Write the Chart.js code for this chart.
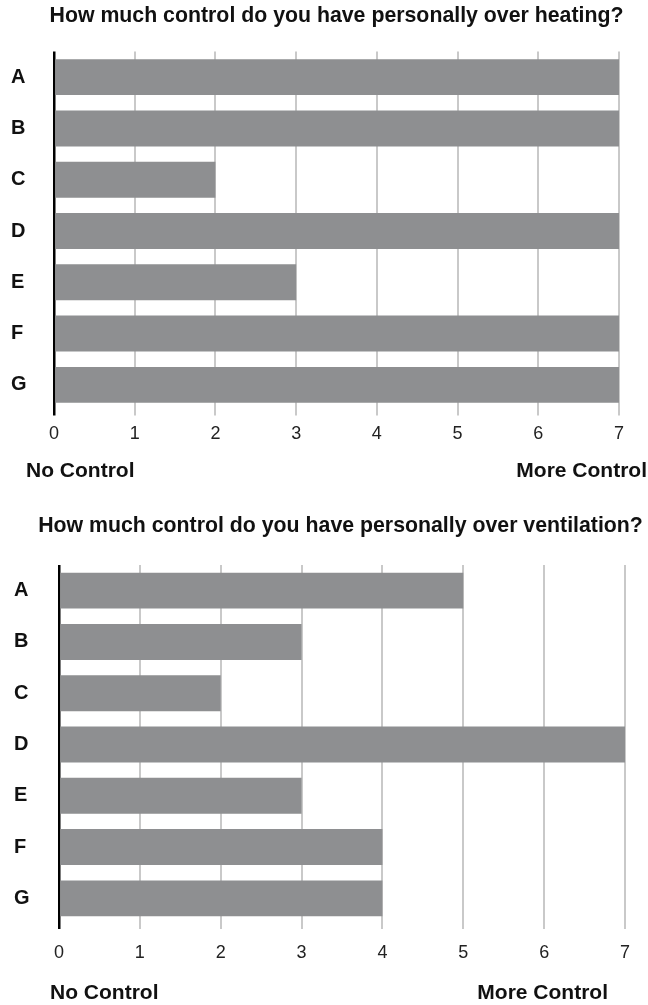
<!DOCTYPE html>
<html>
<head>
<meta charset="utf-8">
<script src="https://cdn.jsdelivr.net/npm/chart.js@4.4.0/dist/chart.umd.min.js"></script>
<style>
  body { margin: 0; background: #fff; }
  .box { position: relative; width: 648px; }
</style>
</head>
<body>
<div class="box" style="height:500px"><canvas id="heating"></canvas></div>
<div class="box" style="height:505px"><canvas id="ventilation"></canvas></div>
<script>
// datos
const categories = ['A', 'B', 'C', 'D', 'E', 'F', 'G'];
const heatingValues = [7, 7, 2, 7, 3, 7, 7];
const ventilationValues = [5, 3, 2, 7, 3, 4, 4];
const scaleTicks = [0, 1, 2, 3, 4, 5, 6, 7];
const heatingTitle = 'How much control do you have personally over heating?';
const ventilationTitle = 'How much control do you have personally over ventilation?';
const lowLabel = 'No Control';
const highLabel = 'More Control';

const FONT = '"Liberation Sans", Arial, Helvetica, sans-serif';

// dibuja el titulo y las etiquetas de los extremos
const textosPlugin = {
    id: 'textos',
    afterDraw(chart, args, opts) {
        const ctx = chart.ctx;
        ctx.save();
        ctx.fillStyle = '#111';
        ctx.textBaseline = 'alphabetic';
        ctx.font = 'bold 21.3px ' + FONT;
        ctx.textAlign = 'center';
        ctx.fillText(opts.title, opts.titleX, opts.titleY);
        ctx.font = 'bold 21px ' + FONT;
        ctx.textAlign = 'left';
        ctx.fillText(lowLabel, opts.leftX, opts.labelY);
        ctx.textAlign = 'right';
        ctx.fillText(highLabel, opts.rightX, opts.labelY);
        ctx.restore();
    }
};

function crearGrafica(id, valores, cfg) {
    return new Chart(document.getElementById(id), {
        type: 'bar',
        data: {
            labels: categories,
            datasets: [{
                data: valores,
                backgroundColor: '#8e8f91',
                barPercentage: 0.70,
                categoryPercentage: 1
            }]
        },
        options: {
            indexAxis: 'y',
            responsive: true,
            maintainAspectRatio: false,
            animation: false,
            layout: { padding: cfg.padding },
            scales: {
                x: {
                    min: 0,
                    max: 7,
                    afterBuildTicks: s => { s.ticks = scaleTicks.map(v => ({ value: v })); },
                    afterFit: s => { s.height = cfg.xHeight; },
                    grid: {
                        // la linea del cero hace de eje vertical
                        color: c => c.tick && c.tick.value === 0 ? '#000' : '#c9c9c9',
                        lineWidth: c => c.tick && c.tick.value === 0 ? 2.5 : 2,
                        tickLength: 5
                    },
                    border: { display: false },
                    ticks: { color: '#222', font: { family: FONT, size: 18 }, padding: cfg.tickPad }
                },
                y: {
                    afterFit: s => { s.width = cfg.yWidth; },
                    grid: { display: false },
                    border: { display: false },
                    ticks: { color: '#111', crossAlign: 'far', font: { family: FONT, size: 20, weight: 'bold' } }
                }
            },
            plugins: {
                legend: { display: false },
                tooltip: { enabled: false },
                textos: cfg.textos
            }
        },
        plugins: [textosPlugin]
    });
}

crearGrafica('heating', heatingValues, {
    padding: { top: 51.5, left: 11, right: 29, bottom: 0 },
    xHeight: 89.5,
    yWidth: 43,
    tickPad: 8,
    textos: { title: heatingTitle, titleX: 336.5, titleY: 22, leftX: 26, rightX: 647, labelY: 477 }
});

crearGrafica('ventilation', ventilationValues, {
    padding: { top: 65, left: 14, right: 23, bottom: 0 },
    xHeight: 81,
    yWidth: 45,
    tickPad: 13,
    textos: { title: ventilationTitle, titleX: 340.5, titleY: 32, leftX: 50, rightX: 608, labelY: 499 }
});
</script>
</body>
</html>
